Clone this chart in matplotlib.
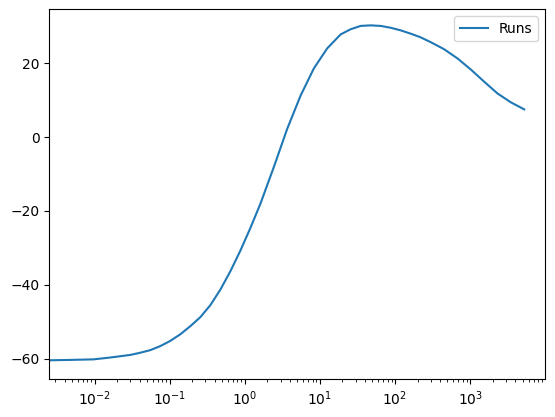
import matplotlib
matplotlib.use("Agg")
import matplotlib.pyplot as plt

# values (frequency, gain in dB)
freq = [0.0025, 0.00474, 0.0097, 0.0162, 0.0299, 0.0407, 0.0553, 0.0752, 0.102, 0.139,
        0.189, 0.257, 0.349, 0.474, 0.645, 0.877, 1.19, 1.62, 2.44, 3.67,
        5.53, 8.32, 12.5, 18.9, 25.7, 34.9, 47.4, 64.4, 87.7, 119,
        162, 220, 299, 450, 679, 1021, 1538, 2318, 3490, 5250]
gain = [-60.45, -60.35, -60.2, -59.7, -59.0, -58.4, -57.7, -56.6, -55.2, -53.4,
        -51.2, -48.75, -45.5, -41.3, -36.3, -30.7, -24.6, -18.0, -8.1, 2.2,
        11.2, 18.6, 24.0, 27.8, 29.2, 30.1, 30.25, 30.1, 29.6, 28.9,
        28.0, 27.0, 25.7, 23.8, 21.3, 18.3, 15.0, 11.8, 9.4, 7.5]

fig = plt.figure(figsize=(5.55, 4.17), dpi=100)
ax = fig.add_axes([0.0888, 0.0904, 0.893, 0.8873])
ax.plot(freq, gain, label="Runs")
ax.set_xscale("log")
ax.set_xlim(0.0025, 9.9e3)
ax.set_ylim(-65.6, 34.6)
ax.legend(loc="upper right")

fig.savefig("out.png")
